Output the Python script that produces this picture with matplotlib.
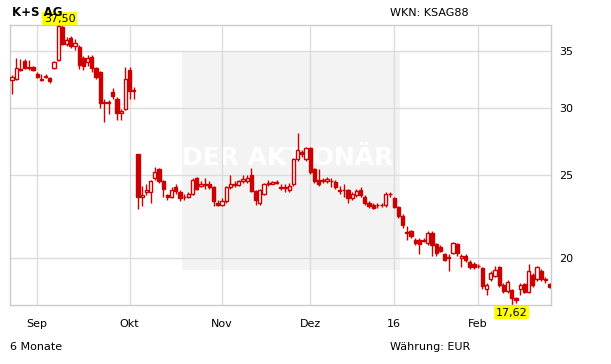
import numpy as np
import pandas as pd
import matplotlib
matplotlib.use("Agg")
import matplotlib.pyplot as plt
from matplotlib.patches import Rectangle
from matplotlib.ticker import FixedLocator, NullLocator

# trading days (Xetra), 6 months up to late Feb 2016
holidays = ["2015-12-24", "2015-12-25", "2015-12-31", "2016-01-01"]
dates = pd.bdate_range("2015-08-24", "2016-02-24")
dates = dates[~dates.isin(pd.to_datetime(holidays))]

month_labels = ["Sep", "Okt", "Nov", "Dez", "16", "Feb"]
y_ticks = [20, 25, 30, 35]

open_ = [
    32.3, 32.4, 33.3, 34.0, 33.4, 33.5, 32.9, 32.4, 32.6, 32.5,
    33.4, 34.1, 37.3, 35.6, 36.2, 35.4, 35.3, 34.3, 33.9, 34.4,
    33.4, 33.0, 30.4, 30.5, 31.3, 30.7, 29.6, 29.9, 33.2, 31.5,
    26.5, 23.6, 23.9, 23.9, 24.8, 25.4, 24.6, 23.7, 23.6, 24.2,
    23.9, 23.6, 23.55, 23.8, 24.8, 24.3, 24.35, 24.45, 24.2, 23.2,
    23.1, 23.3, 24.2, 24.35, 24.35, 24.6, 24.65, 25.0, 23.95, 23.2,
    23.8, 24.45, 24.45, 24.55, 24.2, 24.15, 24.05, 24.4, 26.1, 26.6,
    26.1, 26.9, 25.4, 24.7, 24.6, 24.65, 24.65, 24.55, 24.0, 24.0,
    24.0, 23.5, 23.7, 24.0, 23.6, 23.2, 23.1, 23.05, 23.1, 23.05,
    23.8, 23.5, 22.95, 22.4, 21.45, 21.5, 21.0, 21.0, 20.95, 20.8,
    21.4, 20.75, 20.6, 20.2, 20.0, 20.3, 20.75, 20.0, 20.1, 19.8,
    19.7, 19.55, 19.45, 18.4, 18.9, 19.05, 19.5, 18.6, 18.3, 18.35,
    17.95, 18.4, 18.65, 18.25, 19.1, 18.9, 19.3, 18.85, 18.65,
]
close = [
    32.6, 33.4, 33.2, 33.4, 33.5, 33.2, 32.6, 32.3, 32.7, 32.2,
    33.9, 37.4, 35.6, 36.0, 35.4, 35.7, 33.7, 33.6, 34.3, 33.4,
    32.6, 30.4, 30.5, 30.4, 31.0, 29.6, 29.75, 32.4, 31.4, 31.4,
    23.6, 23.7, 24.0, 24.6, 25.2, 24.6, 24.1, 23.6, 24.0, 23.95,
    23.5, 23.55, 23.8, 24.7, 24.1, 24.4, 24.45, 24.2, 23.3, 23.1,
    23.35, 24.2, 24.4, 24.4, 24.6, 24.75, 24.85, 23.95, 23.4, 24.0,
    24.4, 24.5, 24.55, 24.5, 24.15, 24.2, 24.3, 26.1, 26.8, 26.5,
    26.9, 25.2, 24.6, 24.4, 24.7, 24.75, 24.6, 24.2, 23.95, 24.05,
    23.5, 23.8, 23.95, 23.7, 23.2, 23.0, 22.9, 23.1, 23.05, 23.75,
    23.75, 22.95, 22.4, 21.85, 21.4, 21.25, 20.8, 20.75, 21.0, 21.4,
    20.7, 20.25, 20.4, 19.9, 20.05, 20.8, 20.25, 20.1, 19.9, 19.5,
    19.5, 19.6, 18.55, 18.6, 19.2, 19.35, 18.6, 18.3, 18.75, 17.95,
    17.85, 18.6, 18.25, 19.3, 18.6, 19.5, 18.9, 18.9, 18.5,
]
high = [
    32.8, 34.3, 34.2, 34.2, 34.1, 33.6, 33.0, 32.9, 32.9, 32.6,
    34.0, 37.5, 37.45, 36.3, 36.4, 36.1, 35.5, 34.5, 34.6, 34.6,
    33.5, 33.1, 30.7, 30.6, 31.6, 30.9, 29.9, 33.5, 33.5, 31.7,
    26.5, 24.3, 24.4, 24.7, 25.6, 25.5, 24.7, 23.8, 24.2, 24.4,
    24.0, 23.8, 23.9, 24.8, 24.9, 24.6, 24.8, 24.6, 24.3, 23.4,
    23.5, 24.3, 25.0, 24.6, 24.7, 25.0, 25.0, 25.5, 24.0, 24.1,
    24.5, 24.7, 24.6, 24.7, 24.4, 24.4, 24.5, 26.2, 28.0, 26.8,
    27.0, 27.0, 25.5, 25.4, 24.8, 24.9, 24.8, 24.7, 24.3, 24.4,
    24.1, 23.9, 24.1, 24.2, 23.7, 23.3, 23.2, 23.2, 23.2, 23.9,
    23.9, 23.6, 23.0, 22.5, 21.8, 21.6, 21.1, 21.1, 21.1, 21.5,
    21.5, 20.8, 20.7, 20.3, 20.2, 20.9, 20.8, 20.2, 20.2, 19.9,
    19.8, 19.7, 19.5, 18.7, 19.3, 19.6, 19.6, 18.7, 18.85, 18.4,
    18.0, 18.7, 18.7, 19.7, 19.2, 19.6, 19.4, 19.0, 18.7,
]
low = [
    31.1, 32.3, 33.1, 33.3, 33.2, 33.1, 32.5, 32.2, 32.5, 32.1,
    33.3, 34.0, 35.5, 35.4, 35.2, 35.1, 33.3, 33.2, 33.6, 33.0,
    32.4, 30.0, 28.9, 29.5, 30.7, 29.0, 29.05, 29.8, 30.7, 30.7,
    22.8, 23.0, 23.7, 23.2, 24.7, 24.5, 23.6, 23.4, 23.5, 23.8,
    23.3, 23.4, 23.5, 23.7, 24.0, 24.2, 24.1, 24.1, 23.0, 23.0,
    23.0, 23.2, 24.1, 24.2, 24.3, 24.5, 24.5, 23.9, 23.1, 23.1,
    23.7, 24.3, 24.4, 24.4, 24.0, 23.9, 23.9, 24.3, 26.0, 26.3,
    26.0, 25.1, 24.5, 24.3, 24.5, 24.5, 24.2, 24.1, 23.8, 23.6,
    23.2, 23.4, 23.6, 23.6, 23.1, 22.9, 22.8, 22.9, 22.95, 22.95,
    23.6, 22.9, 22.3, 21.7, 21.0, 21.1, 20.7, 20.2, 20.9, 20.7,
    20.1, 20.1, 20.35, 19.85, 19.3, 20.2, 20.1, 19.5, 19.8, 19.4,
    19.4, 19.45, 18.4, 18.1, 18.8, 19.0, 18.5, 18.2, 18.2, 17.62,
    17.7, 18.1, 18.2, 18.2, 18.5, 18.8, 18.8, 18.7, 18.45,
]

RED = "#cc0000"
GRID = "#dcdcdc"

o = np.array(open_)
c = np.array(close)
h = np.array(high)
l = np.array(low)
x = np.arange(len(dates))

fig = plt.figure(figsize=(6.11, 3.64), dpi=100)
ax = fig.add_axes([10 / 611, 59 / 364, 541 / 611, 280 / 364])

# watermark box, behind grid and candles
ax.add_patch(Rectangle((182 / 611, 94 / 364), 218 / 611, 218 / 364,
                       transform=fig.transFigure, facecolor="#f3f3f3",
                       edgecolor="none", zorder=0.2, clip_on=False))
ax.text(288 / 611, 1 - 158 / 364, "DER AKTIONÄR", color="white", fontsize=18,
        fontweight="bold", ha="center", va="center", zorder=0.5,
        transform=fig.transFigure)

ax.set_yscale("log")
ax.set_ylim(l.min(), h.max())
ax.set_xlim(-0.48, 128.35)

# grid
for v in y_ticks:
    ax.axhline(v, color=GRID, lw=1, zorder=1)
month_start = [i for i in range(1, len(dates)) if dates[i].month != dates[i - 1].month]
for i in month_start:
    ax.axvline(i, color=GRID, lw=1, zorder=1)

# candles
ax.vlines(x, l, h, color=RED, lw=1, zorder=2)
up = c >= o
ax.bar(x[up], (c - o)[up], bottom=o[up], width=0.75, facecolor="white",
       edgecolor=RED, linewidth=1, zorder=3)
ax.bar(x[~up], (o - c)[~up], bottom=c[~up], width=0.75, facecolor=RED,
       edgecolor=RED, linewidth=1, zorder=3)

ax.yaxis.tick_right()
ax.yaxis.set_major_locator(FixedLocator(y_ticks))
ax.yaxis.set_minor_locator(NullLocator())
ax.set_yticklabels([str(v) for v in y_ticks])
ax.set_xticks(month_start)
ax.set_xticklabels(month_labels)
ax.tick_params(axis="both", length=0, labelsize=8, colors="black")
ax.tick_params(axis="y", pad=6)
ax.tick_params(axis="x", pad=10)
for s in ax.spines.values():
    s.set_color("#cccccc")
    s.set_linewidth(1)

# max / min labels
imax, imin = int(h.argmax()), int(l.argmin())
box = dict(boxstyle="square,pad=0.15", fc="#ffff00", ec="none")
ax.annotate(f"{h[imax]:.2f}".replace(".", ","), (imax, h[imax]), xytext=(1, 1),
            textcoords="offset points", ha="center", va="bottom", fontsize=8,
            bbox=box, annotation_clip=False, zorder=5)
ax.annotate(f"{l[imin]:.2f}".replace(".", ","), (imin, l[imin]), xytext=(0, -2),
            textcoords="offset points", ha="center", va="top", fontsize=8,
            bbox=box, annotation_clip=False, zorder=5)

fig.text(12 / 611, 1 - 13 / 364, "K+S AG", fontsize=8.5, fontweight="bold",
         va="center", zorder=1)
fig.text(390 / 611, 1 - 13 / 364, "WKN: KSAG88", fontsize=8, va="center")
fig.text(10 / 611, 1 - 347 / 364, "6 Monate", fontsize=8, va="center")
fig.text(390 / 611, 1 - 347 / 364, "Währung: EUR", fontsize=8, va="center")

fig.savefig("out.png", dpi=100)
